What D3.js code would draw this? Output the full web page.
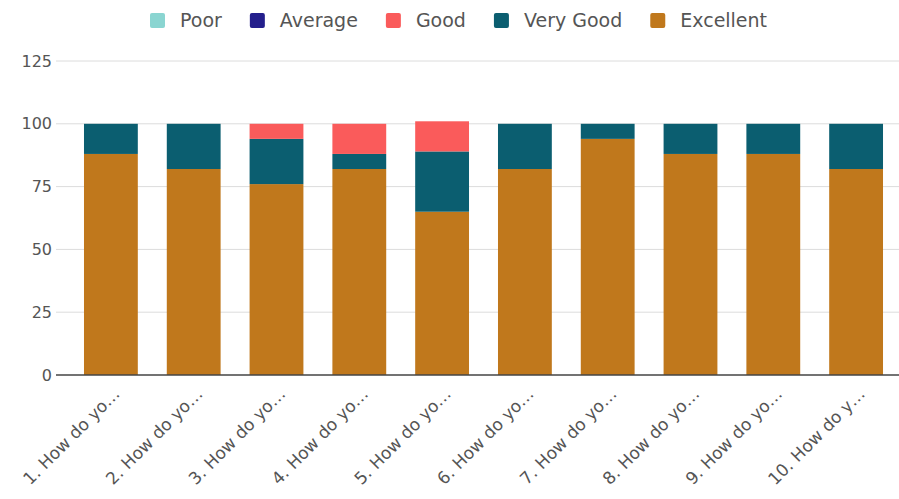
<!DOCTYPE html>
<html><head><meta charset="utf-8">
<script src="https://cdn.jsdelivr.net/npm/d3@7"></script>
<style>body{margin:0;background:#fff;}svg{display:block;} text{font-family:'DejaVu Sans', Verdana, sans-serif;}</style>
</head><body><svg id="c" width="899" height="499"></svg>
<script>
const categories = ["1. How do yo…","2. How do yo…","3. How do yo…","4. How do yo…","5. How do yo…","6. How do yo…","7. How do yo…","8. How do yo…","9. How do yo…","10. How do y…"];
const seriesNames = ["Poor","Average","Good","Very Good","Excellent"];
const poor      = [0,0,0,0,0,0,0,0,0,0];
const average   = [0,0,0,0,0,0,0,0,0,0];
const good      = [0,0,6,12,12,0,0,0,0,0];
const veryGood  = [12,18,18,6,24,18,6,12,12,18];
const excellent = [88,82,76,82,65,82,94,88,88,82];
const yTicks = [0,25,50,75,100,125];
const colors = ["#8ad5d1","#241f8c","#fa5b5b","#0b5e70","#c0781c"];

(function(){
const svg = d3.select("#c");
const mLeft = 56, mRight = 911, mTop = 61, mBottom = 375;

const x = d3.scaleBand().domain(categories).range([mLeft, mRight]).paddingInner(0.35).paddingOuter(0.338);
const y = d3.scaleLinear().domain([0,125]).range([mBottom, mTop]);

svg.append("g").selectAll("line").data(yTicks.filter(d=>d>0)).join("line")
  .attr("x1", mLeft).attr("x2", 899).attr("y1", d=>y(d)).attr("y2", d=>y(d))
  .attr("stroke", "#dcdcdc").attr("stroke-width", 1);

const yAxis = svg.append("g").attr("transform", `translate(${mLeft},0)`)
  .call(d3.axisLeft(y).tickValues(yTicks).tickSize(0).tickPadding(4));
yAxis.select(".domain").remove();
yAxis.selectAll("text").attr("font-size", 16).attr("fill", "#555");

const seriesArrays = [poor, average, good, veryGood, excellent];
const rows = categories.map((c,i)=>{ const o={cat:c}; seriesNames.forEach((s,j)=>o[s]=seriesArrays[j][i]); return o; });
const stacked = d3.stack().keys(seriesNames.slice().reverse())(rows);
const colorOf = d3.scaleOrdinal().domain(seriesNames).range(colors);

svg.append("g").selectAll("g").data(stacked).join("g")
  .attr("fill", d=>colorOf(d.key))
  .selectAll("rect").data(d=>d).join("rect")
  .attr("x", d=>x(d.data.cat)).attr("width", x.bandwidth())
  .attr("y", d=>y(d[1])).attr("height", d=>y(d[0])-y(d[1]));

const xAxis = svg.append("g").attr("transform", `translate(0,${mBottom})`)
  .call(d3.axisBottom(x).tickSize(0).tickPadding(0));
xAxis.select(".domain").attr("d", `M${mLeft},0H899`).attr("stroke", "#444").attr("stroke-width", 1.5);
xAxis.selectAll("text").attr("font-size", 17).attr("fill", "#555")
  .attr("text-anchor", "end").attr("dy", 0)
  .attr("transform", "translate(10,20) rotate(-45)");

const lg = svg.append("g");
let lx = 150;
seriesNames.forEach((s,i)=>{
  lg.append("rect").attr("x", lx).attr("y", 13).attr("width", 15).attr("height", 15).attr("rx", 2).attr("fill", colors[i]);
  const t = lg.append("text").attr("x", lx+30).attr("y", 27).text(s)
    .attr("font-size", 19).attr("fill", "#555");
  lx += 30 + t.node().getComputedTextLength() + 28;
});
})();
</script></body></html>
